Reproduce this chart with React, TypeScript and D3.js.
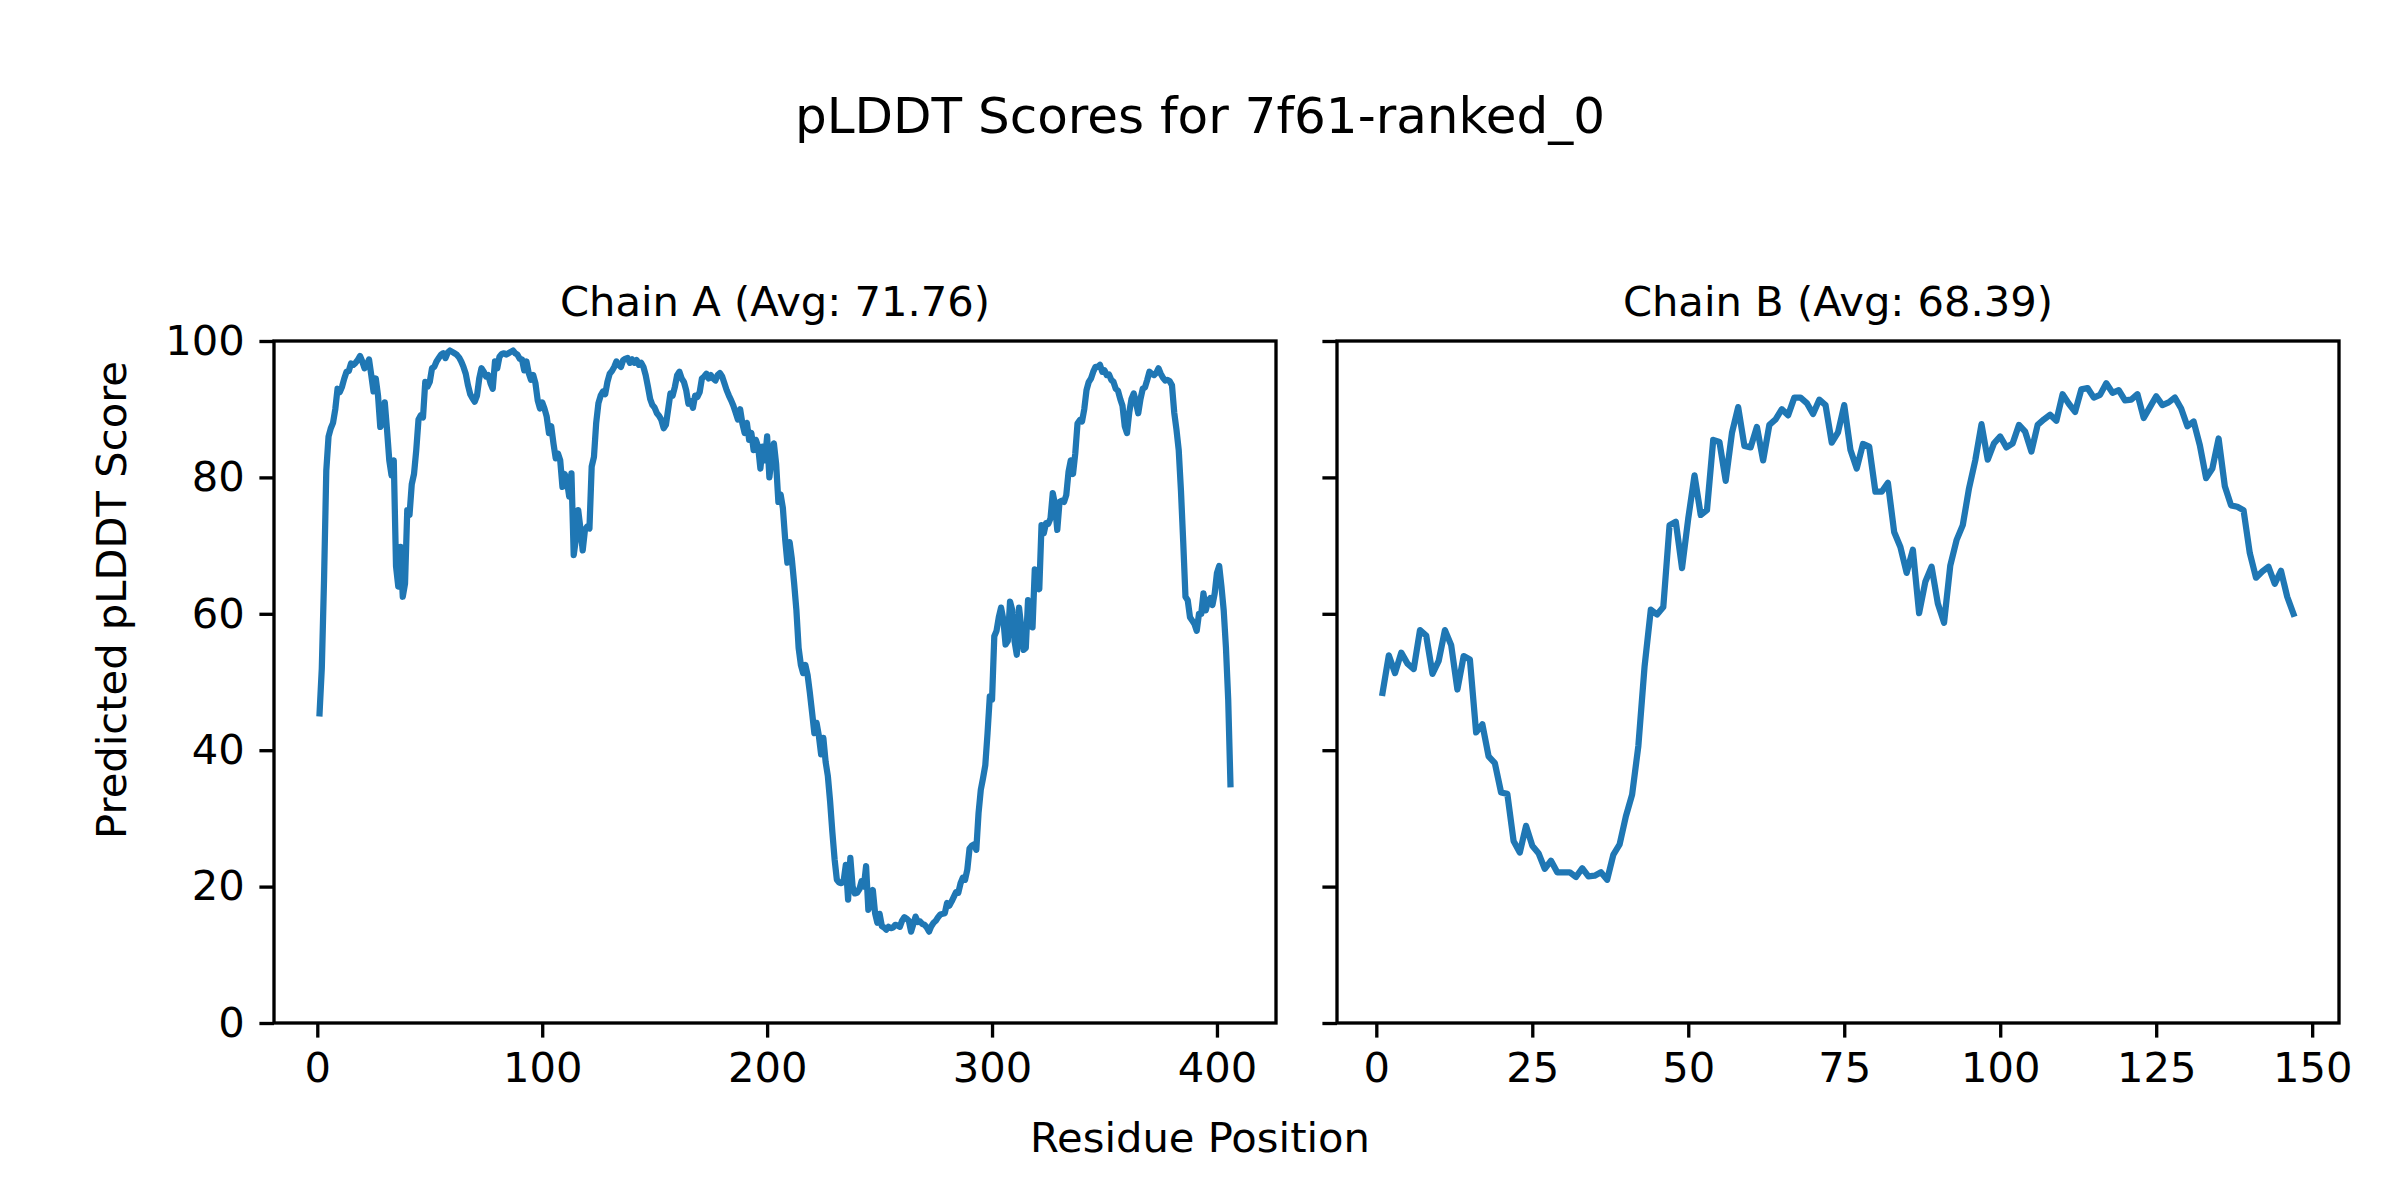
import React, { useRef, useEffect } from 'react';
import * as d3 from 'd3';

// pLDDT per residue
const CHAIN_A: number[] = [
  45.4, 52, 65, 81, 86, 87.2, 88, 90, 93, 92.5,
  93.3, 94.5, 95.5, 95.6, 96.7, 96.5, 96.8, 97.2, 97.8, 97,
  96, 96.5, 97.3, 95, 92.6, 94.5, 92, 87.4, 88, 91,
  87, 82.5, 80.3, 82.5, 67, 64, 69.8, 62.5, 64.4, 75.2,
  74.5, 79, 80.5, 84, 88.5, 89.1, 88.8, 94, 93.3, 94,
  96, 96.2, 97, 97.5, 98, 98.2, 97.5, 98.3, 98.6, 98.4,
  98.2, 98, 97.6, 97, 96.2, 95.2, 93.5, 92.2, 91.6, 91.1,
  92, 94.5, 96, 95.5, 94.8, 95, 93.8, 93, 97, 96,
  97.7, 98.1, 98.2, 98, 98.2, 98.4, 98.6, 98.2, 98, 97.4,
  97.3, 95.7, 97, 95.3, 94.3, 95, 93.8, 91.3, 90.1, 91,
  90.1, 88.9, 86.5, 87.5, 85, 82.8, 83.5, 82.5, 78.6, 80.5,
  79.5, 77.2, 80.6, 68.6, 71, 75.2, 72.5, 69.3, 72.3, 72.8,
  72.5, 81.6, 83, 88, 90.9, 92, 92.6, 92.2, 94, 95.2,
  95.6, 96.2, 97, 96.5, 96.2, 97.2, 97.4, 97.5, 96.8, 97.3,
  96.8, 97.2, 96.5, 96.8, 96.2, 95, 93.3, 91.5, 90.6, 90.2,
  89.4, 89, 88.4, 87.2, 87.7, 90, 92.3, 92, 93.3, 95,
  95.5, 94.5, 94, 92.8, 90.8, 91.2, 90.2, 92, 91.8, 92.5,
  94.5, 94.8, 95.2, 94.5, 95, 94.5, 94.2, 95, 95.3, 94.8,
  93.8, 92.8, 92, 91.3, 90.5, 89.5, 88.5, 90, 87.9, 86.5,
  88, 85.5, 86.5, 84, 85.5, 84.5, 81.3, 84.5, 82.5, 86,
  80, 83, 85, 82, 76.4, 77.5, 75.5, 71, 67.5, 70.5,
  68, 64.5, 60.6, 55, 52.5, 51.3, 52.5, 51, 48.4, 45.5,
  42.5, 44, 42.1, 39.4, 41.8, 38.3, 36.2, 32.5, 28, 24,
  21, 20.6, 20.5, 20.8, 23.2, 18.1, 24.2, 20, 19, 19.1,
  19.6, 20.8, 20, 23, 16.6, 17.5, 19.5, 16.1, 14.7, 16,
  14.2, 14, 13.7, 14.1, 13.9, 14, 14.4, 14.3, 14.1, 15,
  15.5, 15.3, 15, 13.4, 14.5, 15.6, 14.8, 14.9, 14.5, 14.4,
  14, 13.4, 14.2, 14.7, 15, 15.5, 15.9, 16, 16.1, 17.6,
  17.2, 17.8, 18.5, 19.2, 19.1, 20.5, 21.3, 21, 22.5, 25.6,
  26, 26.2, 25.4, 30.8, 34.2, 35.9, 37.8, 42.5, 47.9, 47.4,
  56.7, 57.5, 59.5, 60.9, 59.2, 55.5, 56, 61.8, 60.5, 56,
  54, 60.9, 58, 54.7, 55, 62, 61, 58, 66.5, 66,
  63.6, 73, 71.8, 73.3, 73.2, 74, 77.7, 76, 72.3, 76.4,
  76.6, 76.4, 77.4, 80.8, 82.5, 80.5, 83.5, 87.9, 88.4, 88.2,
  90, 92.8, 94, 94.5, 95.5, 96.2, 96.2, 96.5, 95.5, 95.7,
  95, 95.1, 94.3, 94, 93, 92.7, 91.5, 90.5, 87.5, 86.5,
  89.5, 91.5, 92.3, 91, 89.4, 91.5, 93, 93.2, 94.3, 95.5,
  95.2, 95, 95.3, 96, 95.2, 94.6, 94.2, 94.3, 94.1, 93.5,
  89.5, 87, 84, 78, 70.5, 62.5, 62, 59.5, 59, 58.5,
  57.5, 60, 60, 63, 60.5, 61.8, 62.3, 61.3, 63, 66,
  67, 64, 60.5, 55, 47.4, 35
];

const CHAIN_B: number[] = [
  48.4, 53.9, 51.3, 54.3, 52.7, 51.9, 57.6, 56.8, 51.2, 53.1,
  57.6, 55.4, 48.9, 53.8, 53.3, 42.6, 43.8, 39.1, 38.1, 33.8,
  33.6, 26.7, 25, 28.9, 26, 24.9, 22.6, 23.8, 22.1, 22.1,
  22.1, 21.4, 22.7, 21.5, 21.6, 22.1, 21, 24.7, 26.2, 30.3,
  33.5, 40.6, 52.3, 60.6, 59.9, 61, 73, 73.5, 66.7, 74,
  80.3, 74.5, 75.2, 85.5, 85.2, 79.5, 86.5, 90.3, 84.6, 84.4,
  87.4, 82.5, 87.7, 88.5, 90, 89.1, 91.7, 91.7, 90.9, 89.3,
  91.4, 90.6, 85.1, 86.6, 90.6, 84, 81.3, 84.9, 84.5, 77.9,
  77.9, 79.2, 72, 69.8, 66, 69.4, 60.1, 64.7, 66.9, 61.5,
  58.7, 67.1, 70.8, 73, 78.4, 82.5, 87.8, 82.6, 85, 86,
  84.4, 85, 87.7, 86.7, 83.8, 87.7, 88.5, 89.2, 88.3, 92.2,
  90.8, 89.6, 92.9, 93.1, 91.7, 92.1, 93.8, 92.4, 92.8, 91.3,
  91.4, 92.2, 88.7, 90.3, 91.9, 90.6, 91, 91.7, 90.1, 87.5,
  88.2, 84.7, 79.9, 81.3, 85.7, 78.7, 75.9, 75.7, 75.2, 68.9,
  65.3, 66.2, 66.9, 64.4, 66.3, 62.5, 60
];

const CHAIN_NAMES = ["A", "B"];
const CHAIN_AVGS = ["71.76", "68.39"];
const X_TICKS_A = [0, 100, 200, 300, 400];
const X_TICKS_B = [0, 25, 50, 75, 100, 125, 150];
const Y_TICKS = [0, 20, 40, 60, 80, 100];

const TITLE = "pLDDT Scores for 7f61-ranked_0";
const X_LABEL = "Residue Position";
const Y_LABEL = "Predicted pLDDT Score";

const W = 2400;
const H = 1200;
const FONT = "'DejaVu Sans', sans-serif";
const LINE_COLOR = "#1f77b4";
const TICK_LEN = 14.6;
const PAD = 14.6;

const PANELS = [
    { left: 274, right: 1276, data: CHAIN_A, ticks: X_TICKS_A, showY: true },
    { left: 1337, right: 2339, data: CHAIN_B, ticks: X_TICKS_B, showY: false }
];
const TOP = 341;
const BOTTOM = 1023;

const App: React.FC = () => {
    const svgRef = useRef<SVGSVGElement>(null);

    useEffect(() => {
        if (!svgRef.current) return;
        const svg = d3.select(svgRef.current);
        svg.selectAll("*").remove();

        svg.append("rect").attr("width", W).attr("height", H).attr("fill", "#fff");

        svg.append("text")
            .attr("x", W / 2)
            .attr("y", 133)
            .attr("text-anchor", "middle")
            .style("font-family", FONT)
            .style("font-size", "50px")
            .text(TITLE);

        const yScale = d3.scaleLinear().domain([0, 100]).range([BOTTOM, TOP]);

        PANELS.forEach((p, i) => {
            const n = p.data.length;
            const margin = 0.05 * (n - 1);
            const xScale = d3.scaleLinear()
                .domain([1 - margin, n + margin])
                .range([p.left, p.right]);

            const clipId = `clip-${i}`;
            svg.append("clipPath").attr("id", clipId)
                .append("rect")
                .attr("x", p.left).attr("y", TOP)
                .attr("width", p.right - p.left).attr("height", BOTTOM - TOP);

            const line = d3.line<number>()
                .x((_, j) => xScale(j + 1))
                .y(d => yScale(d));

            svg.append("path")
                .datum(p.data)
                .attr("clip-path", `url(#${clipId})`)
                .attr("d", line)
                .attr("fill", "none")
                .attr("stroke", LINE_COLOR)
                .attr("stroke-width", 6.25)
                .attr("stroke-linejoin", "round")
                .attr("stroke-linecap", "square");

            const xAxis = svg.append("g")
                .attr("transform", `translate(0,${BOTTOM})`)
                .call(d3.axisBottom(xScale).tickValues(p.ticks).tickSize(TICK_LEN).tickPadding(PAD).tickSizeOuter(0).tickFormat(d3.format("d")));

            const yAxis = svg.append("g")
                .attr("transform", `translate(${p.left},0)`)
                .call(d3.axisLeft(yScale).tickValues(Y_TICKS).tickSize(TICK_LEN).tickPadding(PAD).tickSizeOuter(0).tickFormat(p.showY ? d3.format("d") : () => ""));

            [xAxis, yAxis].forEach(ax => {
                ax.select(".domain").remove();
                ax.selectAll("line").attr("stroke", "#000").attr("stroke-width", 3.33);
                ax.selectAll("text")
                    .attr("fill", "#000")
                    .style("font-family", FONT)
                    .style("font-size", "41.67px");
            });

            svg.append("rect")
                .attr("x", p.left).attr("y", TOP)
                .attr("width", p.right - p.left).attr("height", BOTTOM - TOP)
                .attr("fill", "none")
                .attr("stroke", "#000")
                .attr("stroke-width", 3.33);

            svg.append("text")
                .attr("x", (p.left + p.right) / 2)
                .attr("y", 316)
                .attr("text-anchor", "middle")
                .style("font-family", FONT)
                .style("font-size", "41.67px")
                .text(`Chain ${CHAIN_NAMES[i]} (Avg: ${CHAIN_AVGS[i]})`);
        });

        svg.append("text")
            .attr("x", W / 2)
            .attr("y", 1152)
            .attr("text-anchor", "middle")
            .style("font-family", FONT)
            .style("font-size", "41.67px")
            .text(X_LABEL);

        svg.append("text")
            .attr("transform", `translate(126,${H / 2}) rotate(-90)`)
            .attr("text-anchor", "middle")
            .style("font-family", FONT)
            .style("font-size", "41.67px")
            .text(Y_LABEL);
    }, []);

    return (
        <div style={{ position: 'absolute', left: 0, top: 0, width: W, height: H }}>
            <svg ref={svgRef} width={W} height={H} style={{ display: 'block' }} />
        </div>
    );
};

export default App;
